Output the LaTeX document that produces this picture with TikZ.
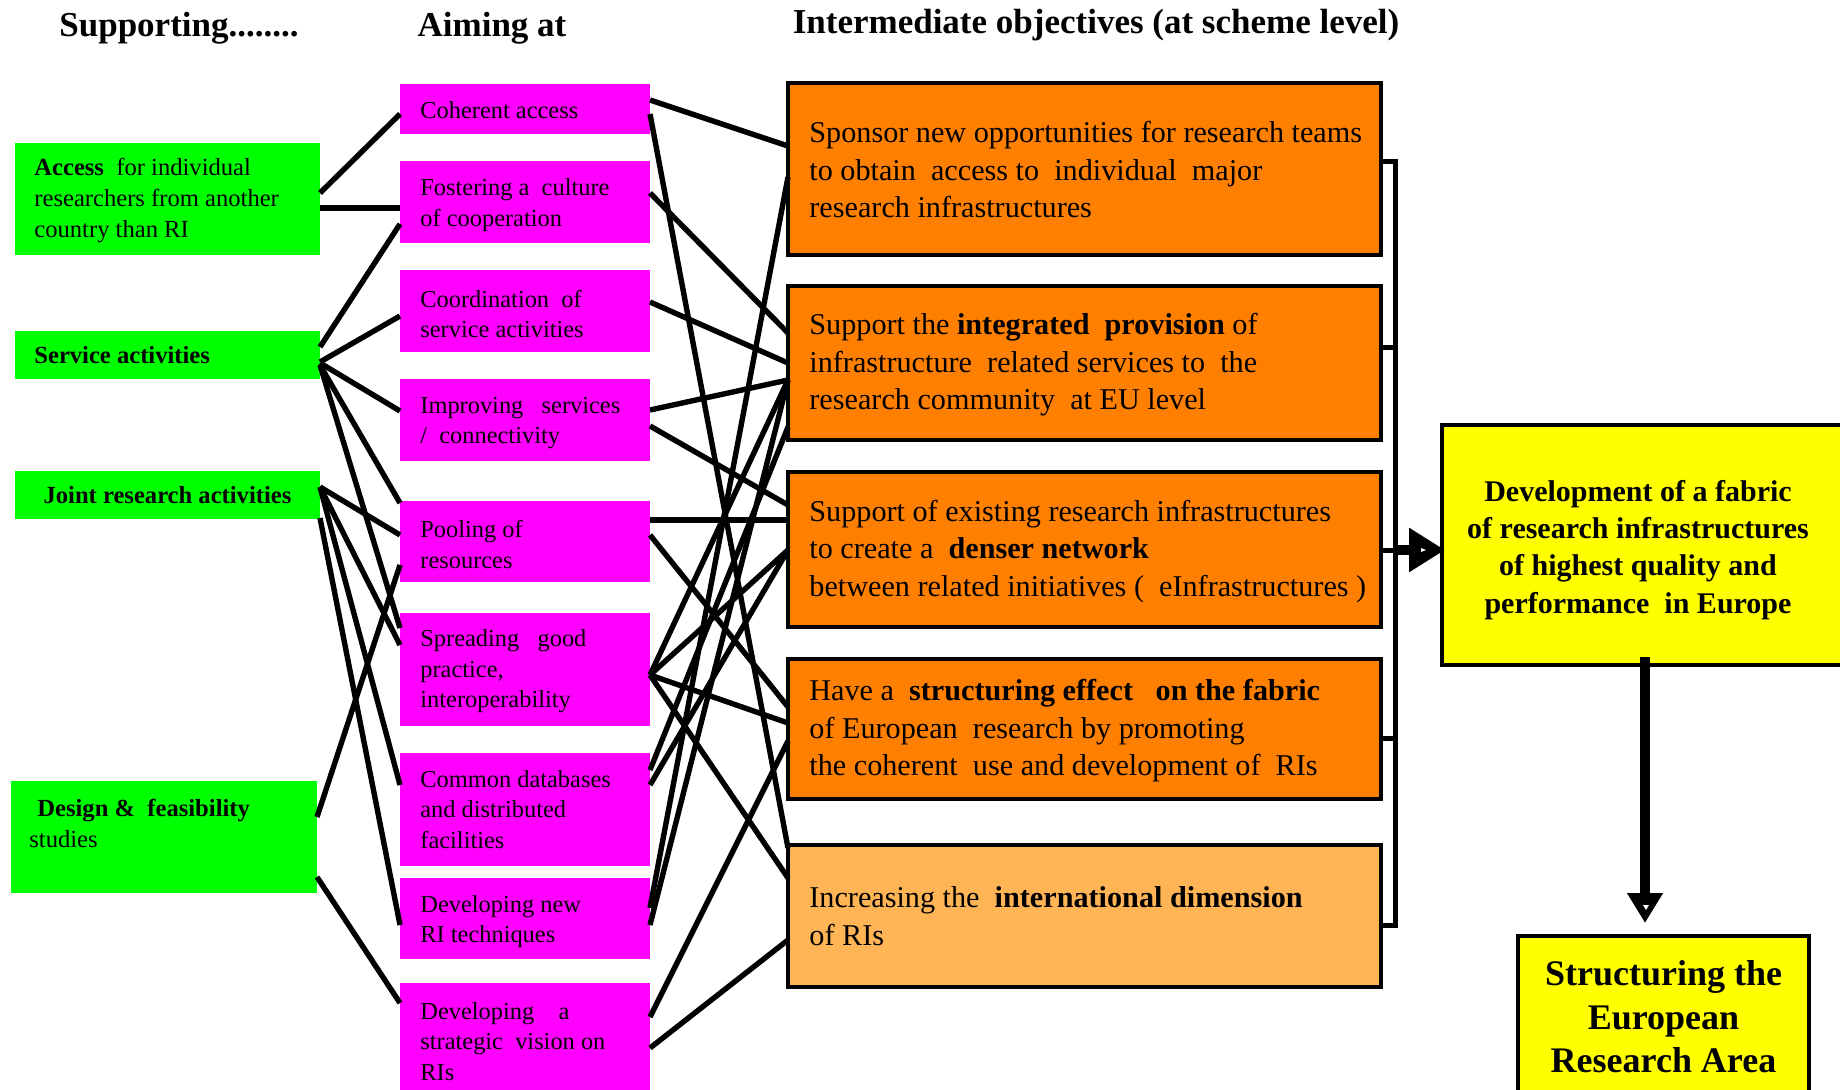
\documentclass[tikz,border=0pt]{standalone}
\usepackage{fontspec}
\setmainfont{Liberation Serif}
\usetikzlibrary{calc,arrows.meta}

\definecolor{bgreen}{RGB}{0,255,0}
\definecolor{bmag}{RGB}{255,0,255}
\definecolor{borange}{RGB}{255,128,0}
\definecolor{lorange}{RGB}{255,180,85}
\definecolor{byellow}{RGB}{255,255,0}

% connector from the right edge of one box to the left edge of another,
% each end given as a drop below the box top
\newcommand\wire[4]{\draw[link] ($(#1.north east)+(0,#2)$) -- ($(#3.north west)+(0,#4)$);}

\begin{document}
\begin{tikzpicture}[x=0.5pt,y=-0.5pt,
  panel/.style={anchor=north west, inner sep=0pt, outer sep=0pt},
  gbox/.style={panel, fill=bgreen, minimum width=152.5pt},
  mbox/.style={panel, fill=bmag, minimum width=125pt},
  obox/.style={panel, fill=borange, draw=black, line width=1.75pt, minimum width=296.5pt},
  ybox/.style={panel, fill=byellow, draw=black, line width=2pt},
  gtxt/.style={anchor=west, inner sep=0pt, align=left, font=\fontsize{12.3}{15.5}\selectfont},
  mtxt/.style={anchor=west, inner sep=0pt, align=left, font=\fontsize{12.2}{15.3}\selectfont},
  otxt/.style={anchor=west, inner sep=0pt, align=left, font=\fontsize{15.1}{18.75}\selectfont},
  head/.style={anchor=base, inner sep=0pt, font=\fontsize{17.5}{21}\selectfont\bfseries},
  link/.style={line width=2.7pt},
  spine/.style={line width=2.5pt},
  fat/.style={line width=5pt}]

\useasboundingbox (0,0) rectangle (1840,1090);
\fill[white] (0,0) rectangle (1840,1090);
\clip (0,0) rectangle (1840,1090);

% column headings
\node[head] (h1) at (179,37) {Supporting........};
\node[head] (h2) at (492,37) {Aiming at};
\node[head] (h3) at (1096,34) {Intermediate objectives (at scheme level)};

% supporting actions
\node[gbox, minimum height=56pt] (G1) at (15,143) {};
\node[gbox, minimum height=24pt] (G2) at (15,331) {};
\node[gbox, minimum height=24pt] (G3) at (15,471) {};
\node[gbox, minimum width=153pt, minimum height=56pt] (G4) at (11,781) {};
\node[gtxt] (G1t) at ($(G1.west)+(19,1)$) {\textbf{Access}\ \ for individual\\researchers from another\\country than RI};
\node[gtxt] (G2t) at ($(G2.west)+(19,0)$) {\textbf{Service activities}};
\node[gtxt, anchor=center] (G3t) at (G3.center) {\textbf{Joint research activities}};
\node[gtxt] (G4t) at ($(G4.west)+(18,-14)$) {\hspace*{4pt}\textbf{Design \&\ \ feasibility}\\studies};

% aims
\node[mbox, minimum height=25pt]   (M1) at (400,84)  {};
\node[mbox, minimum height=41pt]   (M2) at (400,161) {};
\node[mbox, minimum height=41pt]   (M3) at (400,270) {};
\node[mbox, minimum height=41pt]   (M4) at (400,379) {};
\node[mbox, minimum height=40.5pt] (M5) at (400,501) {};
\node[mbox, minimum height=56.5pt] (M6) at (400,613) {};
\node[mbox, minimum height=56.5pt] (M7) at (400,753) {};
\node[mbox, minimum height=40.5pt] (M8) at (400,878) {};
\node[mbox, minimum height=56.5pt] (M9) at (400,983) {};
\node[mtxt] (M1t) at ($(M1.west)+(20,1)$) {Coherent access};
\node[mtxt] (M2t) at ($(M2.west)+(20,3)$) {Fostering a\ \ culture\\of cooperation};
\node[mtxt] (M3t) at ($(M3.west)+(20,3)$) {Coordination\ \ of\\service activities};
\node[mtxt] (M4t) at ($(M4.west)+(20,3)$) {Improving\ \ \ services\\/\ \ connectivity};
\node[mtxt] (M5t) at ($(M5.west)+(20,3)$) {Pooling of\\resources};
\node[mtxt] (M6t) at ($(M6.west)+(20,2)$) {Spreading\ \ \ good\\practice,\\interoperability};
\node[mtxt] (M7t) at ($(M7.west)+(20,0)$) {Common databases\\and distributed\\facilities};
\node[mtxt] (M8t) at ($(M8.west)+(20,3)$) {Developing new\\RI techniques};
\node[mtxt] (M9t) at ($(M9.west)+(20,2)$) {Developing\ \ \ \ a\\strategic\ \ vision on\\RIs};

% intermediate objectives
\node[obox, minimum height=86pt]   (O1) at (788,83)  {};
\node[obox, minimum height=77pt]   (O2) at (788,286) {};
\node[obox, minimum height=77.5pt] (O3) at (788,472) {};
\node[obox, minimum height=70pt]   (O4) at (788,659) {};
\node[obox, fill=lorange, minimum height=71pt] (O5) at (788,845) {};
\node[otxt] (O1t) at ($(O1.west)+(21,1)$) {Sponsor new opportunities for research teams\\to obtain\ \ access to\ \ individual\ \ major\\research infrastructures};
\node[otxt] (O2t) at ($(O2.west)+(21,2)$) {Support the \textbf{integrated\ \ provision} of\\infrastructure\ \ related services to\ \ the\\research community\ \ at EU level};
\node[otxt] (O3t) at ($(O3.west)+(21,2)$) {Support of existing research infrastructures\\to create a\ \ \textbf{denser network}\\between related initiatives (\ \ eInfrastructures )};
\node[otxt] (O4t) at ($(O4.west)+(21,2)$) {Have a\ \ \textbf{structuring effect\ \ \ on the fabric}\\of European\ \ research by promoting\\the coherent\ \ use and development of\ \ RIs};
\node[otxt] (O5t) at ($(O5.west)+(21,0)$) {Increasing the\ \ \textbf{international dimension}\\of RIs};

% overall goals
\node[ybox, minimum width=210pt, minimum height=120pt] (Y1) at (1442,425) {};
\node[ybox, minimum width=145.5pt, minimum height=81pt] (Y2) at (1518,936) {};
\node[inner sep=0pt, align=center, font=\fontsize{15}{18.6}\selectfont\bfseries] (Y1t) at (1638,550)
  {Development of a fabric\\of research infrastructures\\of highest quality and\\performance\ \ in Europe};
\node[inner sep=0pt, align=center, font=\fontsize{18}{21.75}\selectfont\bfseries] (Y2t) at (Y2.center)
  {Structuring the\\European\\Research Area};

% supporting actions -> aims
\wire{G1}{50}{M1}{30}
\wire{G1}{65}{M2}{47}
\wire{G2}{16}{M2}{63}
\wire{G2}{31}{M3}{46}
\wire{G2}{32}{M4}{32}
\wire{G2}{34}{M5}{2}
\wire{G2}{34}{M6}{15}
\wire{G3}{16}{M5}{34}
\wire{G3}{16}{M6}{32}
\wire{G3}{16}{M7}{32}
\wire{G3}{47}{M8}{47}
\wire{G4}{36}{M5}{64}
\wire{G4}{96}{M9}{20}

% aims -> intermediate objectives
\wire{M1}{16}{O1}{63}
\wire{M1}{30}{O5}{3}
\wire{M2}{32}{O2}{47}
\wire{M3}{32}{O2}{77}
\wire{M4}{31}{O2}{94}
\wire{M4}{47}{O3}{33}
\wire{M5}{19}{O3}{48}
\wire{M5}{34}{O4}{48}
\wire{M6}{62}{O2}{94}
\wire{M6}{62}{O3}{78}
\wire{M6}{62}{O4}{64}
\wire{M6}{62}{O5}{33}
\wire{M7}{17}{O2}{141}
\wire{M7}{32}{O3}{78}
\wire{M8}{30}{O1}{94}
\wire{M8}{47}{O2}{94}
\wire{M9}{34}{O4}{82}
\wire{M9}{65}{O5}{95}

% bracket gathering the objectives
\draw[spine] ($(O1.north east)+(0,79)$) -- ++(14,0) coordinate (sp1) |- ($(O5.north east)+(0,80)$);
\draw[spine] ($(O2.north east)+(0,62)$) -- ++(14,0);
\draw[spine] ($(O3.north east)+(0,78)$) -- ++(14,0) coordinate (sp3);
\draw[spine] ($(O4.north east)+(0,79)$) -- ++(14,0);

% arrows towards the goals
\draw[fat, -{Triangle[length=18pt,width=21pt]}] (sp3) -- ($(Y1.north west)+(3,125)$);
\fill[white] ($(Y1.north west)+(-21,123)$) -- ++(5,2) -- ++(-5,2) -- cycle;
\coordinate (dtop) at ($(Y1.south west)+(203,-8)$);
\draw[fat, -{Triangle[length=15pt,width=17pt]}, shorten >=6.5pt] (dtop) -- (dtop |- Y2.north);
\fill[white] ($(Y2.north west)+(125,-31)$) -- ++(6,0) -- ++(-3,5) -- cycle;

\end{tikzpicture}
\end{document}
